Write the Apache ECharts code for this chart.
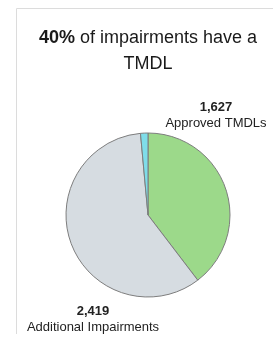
<!DOCTYPE html>
<html>
<head>
<meta charset="utf-8">
<script src="https://cdn.jsdelivr.net/npm/echarts@6/dist/echarts.min.js"></script>
<style>
  html, body { margin: 0; padding: 0; background: #fff; }
  #chart { width: 273px; height: 344px; }
</style>
</head>
<body>
<div id="chart"></div>
<script>
  // slices: approved TMDLs, additional impairments, small remainder
  const categories = ['Approved TMDLs', 'Additional Impairments', 'Other'];
  const values = [1627, 2419, 60];
  const sliceColors = ['#9cd98a', '#d6dce1', '#7fdde9'];
  const headline = ['40%', 'of impairments have a', 'TMDL'];

  const chart = echarts.init(document.getElementById('chart'));
  const font = 'Liberation Sans, Arial, sans-serif';

  chart.setOption({
    animation: false,
    title: {
      text: '{b|' + headline[0] + '} {n|' + headline[1] + '}\n{n|' + headline[2] + '}',
      left: 143,
      top: 20,
      textAlign: 'center',
      textStyle: {
        fontWeight: 'normal',
        rich: {
          b: { fontFamily: font, fontSize: 18, fontWeight: 'bold', color: '#1a1a1a', lineHeight: 26 },
          n: { fontFamily: font, fontSize: 18, fontWeight: 'normal', color: '#1a1a1a', lineHeight: 26 }
        }
      }
    },
    graphic: [
      { type: 'line', shape: { x1: 16.5, y1: 8.5, x2: 273, y2: 8.5 }, style: { stroke: '#dcdcdc', lineWidth: 1 } },
      { type: 'line', shape: { x1: 16.5, y1: 8.5, x2: 16.5, y2: 334 }, style: { stroke: '#dcdcdc', lineWidth: 1 } }
    ],
    series: [{
      type: 'pie',
      center: [148, 215],
      radius: 82,
      startAngle: 90,
      clockwise: true,
      silent: true,
      itemStyle: { borderColor: '#7d7d7d', borderWidth: 1 },
      labelLine: { show: false },
      label: {
        show: true,
        position: 'inside',
        overflow: 'none',
        formatter: (p) => '{v|' + p.value.toLocaleString('en-US') + '}\n{t|' + p.name + '}',
        rich: {
          v: { fontFamily: font, fontSize: 13, fontWeight: 'bold', color: '#222', lineHeight: 16, align: 'center' },
          t: { fontFamily: font, fontSize: 13, fontWeight: 'normal', color: '#222', lineHeight: 16, align: 'center' }
        }
      },
      labelLayout: (p) => {
        const pos = [[216, 115], [93, 319], [0, 0]][p.dataIndex];
        return { x: pos[0], y: pos[1], align: 'center', verticalAlign: 'middle' };
      },
      data: categories.map((name, i) => ({
        name,
        value: values[i],
        itemStyle: { color: sliceColors[i] },
        label: { show: i < 2 }
      }))
    }]
  });
</script>
</body>
</html>
